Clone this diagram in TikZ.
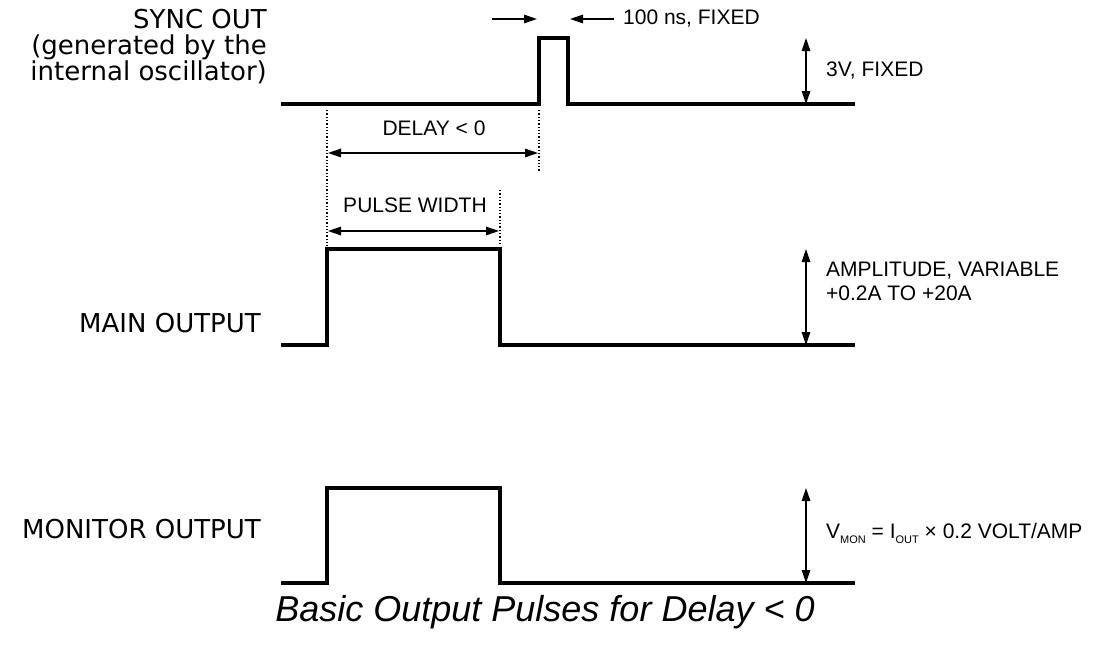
\documentclass[tikz,border=0pt]{standalone}
\usepackage{fontspec}
\setmainfont{Liberation Sans}
\newfontfamily\leftfont{DejaVu Sans}
\usetikzlibrary{arrows.meta}

\begin{document}
\begin{tikzpicture}[x=1pt, y=-1pt,
    trace/.style={line width=3.2pt, line join=miter},
    guide/.style={line width=1.3pt, dotted},
    dimline/.style={line width=1.4pt, {Triangle[length=13pt,width=8.5pt]}-{Triangle[length=13pt,width=8.5pt]}},
    oneway/.style={line width=1.4pt, -{Triangle[length=13pt,width=8.5pt]}},
    sidelbl/.style={font=\leftfont\fontsize{26}{26}\selectfont, inner sep=0pt},
    dimlbl/.style={font=\fontsize{21}{24}\selectfont, inner sep=0pt}]
    \useasboundingbox (0,0) rectangle (1099,659);
    % Sync out trace
    \draw[trace] (281,104) -- (539,104) -- (539,38) -- (568,38) -- (568,104) -- (855,104);
    % Main output trace
    \draw[trace] (281,345) -- (327,345) -- (327,249) -- (500,249) -- (500,345) -- (855,345);
    % Monitor output trace
    \draw[trace] (281,583) -- (327,583) -- (327,488) -- (500,488) -- (500,583) -- (855,583);

    % Dotted guides
    \coordinate (gA) at (327,110);
    \coordinate (gB) at (327,246);
    \coordinate (gC) at (539,110);
    \coordinate (gD) at (539,172);
    \coordinate (gE) at (500,190);
    \coordinate (gF) at (500,246);
    \draw[guide] (gA) -- (gB);
    \draw[guide] (gC) -- (gD);
    \draw[guide] (gE) -- (gF);

    % Delay and pulse width
    \coordinate (dlyL) at (328,153);
    \coordinate (dlyR) at (538,153);
    \draw[dimline] (dlyL) -- (dlyR);
    \node[dimlbl] (dly) at (434,128) {DELAY < 0};
    \coordinate (pwL) at (328,231);
    \coordinate (pwR) at (499,231);
    \draw[dimline] (pwL) -- (pwR);
    \node[dimlbl] (pw) at (415,205) {PULSE WIDTH};

    % 100 ns markers
    \coordinate (nsA) at (492,19);
    \coordinate (nsB) at (537,19);
    \coordinate (nsC) at (614,19);
    \coordinate (nsD) at (570,19);
    \draw[oneway] (nsA) -- (nsB);
    \draw[oneway] (nsC) -- (nsD);
    \node[dimlbl, anchor=west] (ns) at (623,19) {100 ns, FIXED};

    % Amplitude arrows
    \coordinate (syT) at (806,38);
    \coordinate (syB) at (806,104);
    \draw[dimline] (syT) -- (syB);
    \node[dimlbl, anchor=west] (sy) at (826,71) {3V, FIXED};
    \coordinate (mnT) at (806,249);
    \coordinate (mnB) at (806,345);
    \draw[dimline] (mnT) -- (mnB);
    \node[dimlbl, anchor=north west, align=left] (amp) at (826,262) {AMPLITUDE, VARIABLE\\+0.2A TO +20A};
    \coordinate (moT) at (806,488);
    \coordinate (moB) at (806,583);
    \draw[dimline] (moT) -- (moB);
    \node[dimlbl, anchor=west] (mon) at (826,533) {V{\fontsize{11}{11}\selectfont\raisebox{-5pt}{MON}} = I{\fontsize{11}{11}\selectfont\raisebox{-5pt}{OUT}} × 0.2 VOLT/AMP};

    % Side labels
    \node[sidelbl, anchor=north east, align=right] (sync) at (267,9) {SYNC OUT\\(generated by the\\internal oscillator)};
    \node[sidelbl, anchor=east] (main) at (261,323) {MAIN OUTPUT};
    \node[sidelbl, anchor=east] (moni) at (261,529) {MONITOR OUTPUT};

    % Caption
    \node[font=\itshape\fontsize{36}{38}\selectfont, inner sep=0pt] (cap) at (545,612) {Basic Output Pulses for Delay < 0};
\end{tikzpicture}
\end{document}
